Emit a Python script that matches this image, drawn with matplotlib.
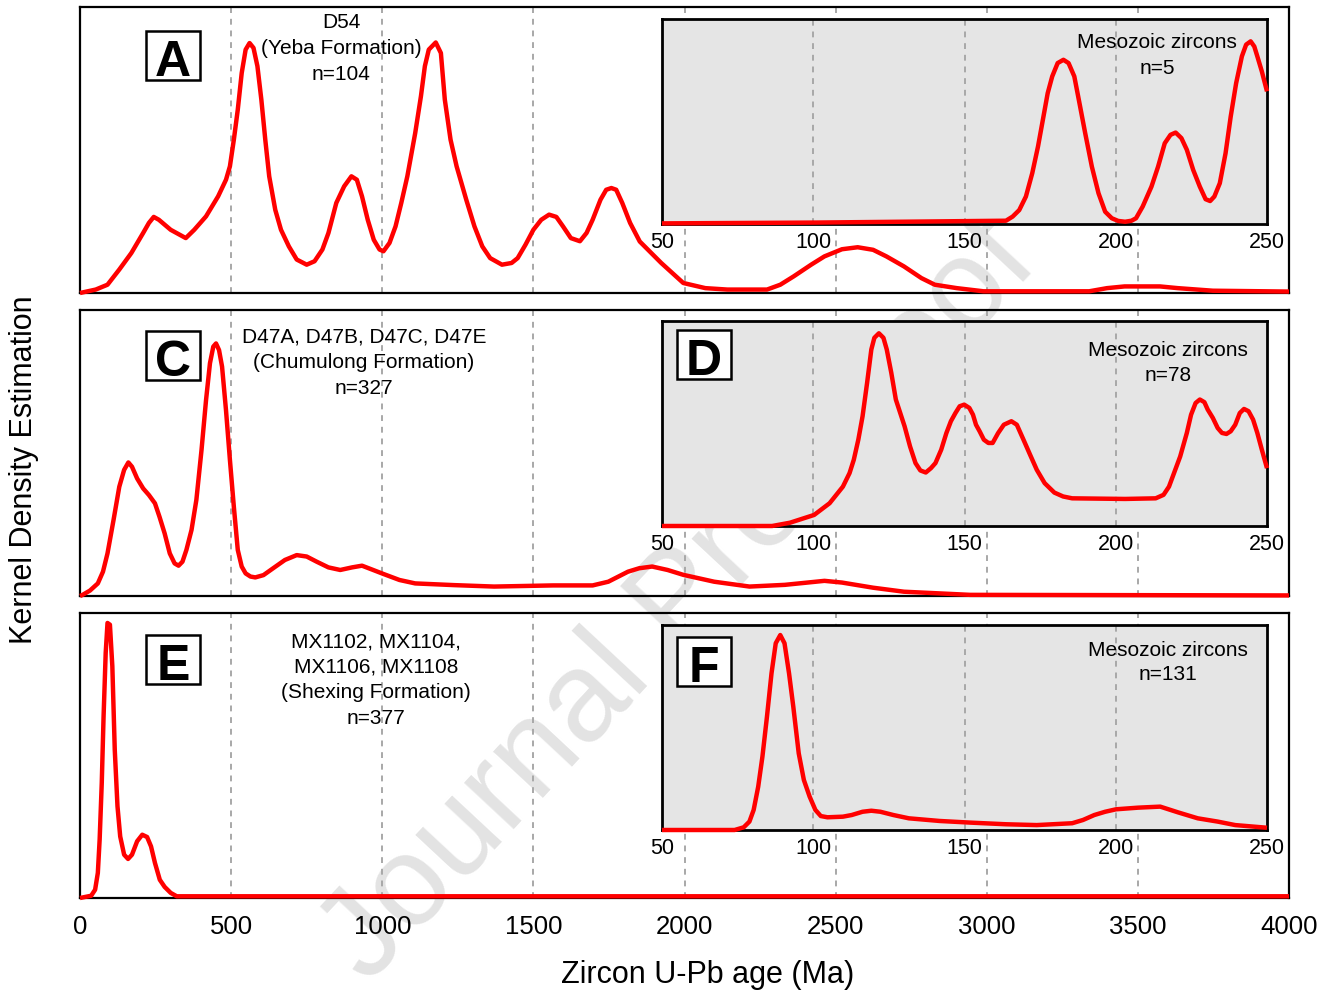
import matplotlib
matplotlib.use('Agg')
import matplotlib.pyplot as plt
from matplotlib.patches import Rectangle

plt.rcParams['font.family'] = ['Liberation Sans', 'DejaVu Sans']

# ---------------- data ----------------
ticks_main = [0, 500, 1000, 1500, 2000, 2500, 3000, 3500, 4000]
ticks_inset = [50, 100, 150, 200, 250]

# Panel A (D54, Yeba Formation)
A_age = [0, 52, 91, 130, 170, 209, 228, 244, 261, 300, 350, 378, 417, 457, 483, 496, 509,
         522, 535, 548, 561, 574, 587, 600, 613, 626, 646, 665, 691, 717, 750, 776, 802,
         822, 848, 874, 898, 916, 933, 952, 972, 991, 1004, 1024, 1044, 1063, 1083, 1109,
         1128, 1141, 1154, 1177, 1194, 1207, 1226, 1246, 1278, 1305, 1331, 1357, 1396,
         1428, 1448, 1474, 1500, 1526, 1552, 1576, 1598, 1624, 1654, 1676, 1696, 1722,
         1741, 1758, 1774, 1794, 1820, 1852, 1923, 1996, 2069, 2142, 2273, 2317, 2361,
         2419, 2463, 2521, 2573, 2624, 2668, 2726, 2784, 2828, 2901, 2989, 3339, 3398,
         3456, 3573, 3632, 3748, 4000]
A_kde = [0.0, 0.012, 0.029, 0.082, 0.140, 0.210, 0.245, 0.266, 0.256, 0.221, 0.192, 0.221,
         0.268, 0.338, 0.396, 0.443, 0.536, 0.641, 0.769, 0.851, 0.874, 0.857, 0.793,
         0.676, 0.536, 0.408, 0.291, 0.221, 0.163, 0.117, 0.099, 0.111, 0.152, 0.210,
         0.315, 0.373, 0.408, 0.396, 0.338, 0.256, 0.186, 0.152, 0.146, 0.175, 0.233,
         0.315, 0.408, 0.559, 0.688, 0.793, 0.851, 0.876, 0.839, 0.676, 0.536, 0.443,
         0.326, 0.233, 0.163, 0.122, 0.099, 0.105, 0.122, 0.169, 0.221, 0.256, 0.274,
         0.266, 0.233, 0.192, 0.181, 0.210, 0.256, 0.326, 0.361, 0.367, 0.361, 0.315,
         0.245, 0.18, 0.105, 0.035, 0.017, 0.012, 0.012, 0.029, 0.058, 0.099, 0.128,
         0.153, 0.160, 0.151, 0.128, 0.093, 0.052, 0.029, 0.017, 0.006, 0.006, 0.017,
         0.023, 0.023, 0.017, 0.008, 0.005]

# Inset B (Mesozoic zircons, n=5)
Ai_age = [50, 101, 163.7, 165.9, 168.1, 170.3, 172.4, 174.3, 176.1, 177.5, 179, 180.8,
          182.7, 184.4, 186.3, 188, 189.9, 192.1, 194.3, 196.5, 198.7, 200.8, 203.1, 205.2,
          206.7, 208.9, 211.8, 214, 216.2, 218.1, 219.8, 221.7, 223.5, 225.6, 227.8, 229.7,
          231.2, 232.6, 234.4, 236.3, 238, 239.8, 241.7, 243.1, 244.6, 245.8, 246.8, 248.3,
          250]
Ai_kde = [0.003, 0.007, 0.016, 0.036, 0.068, 0.134, 0.248, 0.378, 0.524, 0.638, 0.72,
          0.785, 0.801, 0.785, 0.72, 0.59, 0.443, 0.28, 0.15, 0.06, 0.028, 0.015, 0.011,
          0.016, 0.028, 0.085, 0.182, 0.28, 0.394, 0.435, 0.446, 0.419, 0.362, 0.264, 0.182,
          0.121, 0.112, 0.134, 0.199, 0.345, 0.524, 0.687, 0.818, 0.875, 0.891, 0.866,
          0.818, 0.744, 0.647]

# Panel C (Chumulong Formation)
C_age = [0, 7, 33, 59, 76, 91, 111, 130, 146, 160, 172, 189, 209, 228, 248, 263, 280, 297,
         313, 326, 339, 352, 369, 385, 402, 417, 430, 441, 450, 460, 470, 483, 496, 509,
         522, 535, 548, 564, 580, 607, 639, 678, 717, 750, 783, 822, 861, 900, 933, 965,
         1004, 1057, 1109, 1239, 1370, 1565, 1696, 1748, 1813, 1850, 1893, 1944, 1996,
         2098, 2215, 2332, 2463, 2521, 2624, 2726, 2945, 4000]
C_kde = [0.0, 0.003, 0.019, 0.044, 0.085, 0.149, 0.266, 0.382, 0.441, 0.467, 0.452, 0.411,
         0.376, 0.353, 0.324, 0.277, 0.219, 0.149, 0.114, 0.106, 0.120, 0.161, 0.231,
         0.336, 0.510, 0.685, 0.814, 0.872, 0.883, 0.860, 0.802, 0.650, 0.476, 0.312,
         0.161, 0.103, 0.079, 0.068, 0.065, 0.073, 0.097, 0.126, 0.143, 0.138, 0.120,
         0.100, 0.091, 0.100, 0.106, 0.093, 0.077, 0.056, 0.044, 0.038, 0.033, 0.037,
         0.037, 0.050, 0.085, 0.097, 0.103, 0.091, 0.074, 0.050, 0.033, 0.039, 0.053,
         0.047, 0.029, 0.015, 0.004, 0.002]

# Inset D (Mesozoic zircons, n=78)
D_age = [50, 86.4, 92.3, 100.3, 105.4, 109.8, 112, 113.4, 114.9, 116.3, 117.8, 119.2,
         120.2, 121.7, 123.2, 124.3, 125.8, 127.3, 130.2, 132, 133.8, 135.4, 137.2, 138.9,
         140.4, 142.3, 144, 145.5, 147, 148.4, 149.9, 151.6, 152.8, 153.8, 155, 156.4,
         157.9, 159.3, 161.1, 163, 165.5, 167.3, 169.5, 171.7, 173.9, 176.5, 179.7, 182.6,
         185.6, 203.1, 213.2, 215.8, 217.6, 221.3, 223.5, 224.9, 226.4, 227.8, 229.3,
         230.4, 232.1, 233.7, 235.1, 236.6, 238, 239.5, 241, 242.4, 243.9, 245.4, 246.8,
         248.3, 250]
D_kde = [0.0, 0.0, 0.016, 0.054, 0.111, 0.192, 0.258, 0.323, 0.421, 0.535, 0.698, 0.861,
         0.918, 0.940, 0.918, 0.861, 0.747, 0.617, 0.486, 0.388, 0.307, 0.271, 0.261,
         0.282, 0.307, 0.372, 0.453, 0.511, 0.551, 0.584, 0.592, 0.576, 0.543, 0.494,
         0.462, 0.421, 0.405, 0.405, 0.453, 0.494, 0.511, 0.494, 0.421, 0.347, 0.274,
         0.209, 0.163, 0.144, 0.135, 0.132, 0.135, 0.152, 0.192, 0.339, 0.454, 0.543,
         0.600, 0.617, 0.604, 0.568, 0.527, 0.478, 0.454, 0.449, 0.462, 0.494, 0.551,
         0.571, 0.560, 0.519, 0.454, 0.372, 0.282]

# Panel E (Shexing Formation)
E_age = [0, 37, 50, 59, 65, 72, 78, 85, 91, 99, 107, 115, 124, 133, 146, 159, 172, 189,
         206, 222, 235, 248, 264, 280, 300, 320, 4000]
E_kde = [0.0, 0.008, 0.029, 0.088, 0.205, 0.404, 0.637, 0.860, 0.965, 0.959, 0.813, 0.520,
         0.322, 0.216, 0.152, 0.137, 0.152, 0.199, 0.222, 0.214, 0.181, 0.123, 0.064,
         0.039, 0.018, 0.006, 0.006]

# Inset F (Mesozoic zircons, n=131)
F_age = [50, 74, 77, 78.9, 80.3, 81.8, 83.2, 84.7, 86.2, 87.6, 89.1, 90.5, 92, 93.4, 95.2,
         96.9, 98.8, 100.7, 102.5, 104.7, 109.8, 112.7, 116.3, 119.2, 122.2, 126.5, 131.6,
         141.8, 152, 163.7, 173.9, 185.6, 189.2, 192.9, 196.5, 200.1, 207.4, 214.7, 220.6,
         227.1, 233.7, 239.5, 250]
F_kde = [0.0, 0.0, 0.013, 0.041, 0.098, 0.211, 0.358, 0.553, 0.764, 0.911, 0.951, 0.911,
         0.764, 0.602, 0.374, 0.244, 0.163, 0.098, 0.068, 0.062, 0.065, 0.073, 0.089,
         0.094, 0.089, 0.073, 0.057, 0.044, 0.036, 0.028, 0.024, 0.033, 0.049, 0.073,
         0.089, 0.101, 0.109, 0.114, 0.086, 0.057, 0.041, 0.024, 0.011]

sample_text = [
    ['D54', '(Yeba Formation)', 'n=104'],
    ['D47A, D47B, D47C, D47E', '(Chumulong Formation)', 'n=327'],
    ['MX1102, MX1104,', 'MX1106, MX1108', '(Shexing Formation)', 'n=377'],
]
inset_text = [
    ['Mesozoic zircons', 'n=5'],
    ['Mesozoic zircons', 'n=78'],
    ['Mesozoic zircons', 'n=131'],
]
panel_letters = ['A', 'C', 'E', 'D', 'F']
xlabel = 'Zircon U-Pb age (Ma)'
ylabel = 'Kernel Density Estimation'
watermark = 'Journal Pre-proof'

# ---------------- layout ----------------
W, H = 1331, 996
fig = plt.figure(figsize=(W / 100, H / 100), dpi=100)
fig.patch.set_facecolor('white')


def rect(x0, y0, x1, y1):
    return [x0 / W, 1 - y1 / H, (x1 - x0) / W, (y1 - y0) / H]


def fpt(x, y):
    return x / W, 1 - y / H


main_boxes = [(80, 7, 1289, 293), (80, 310, 1289, 596), (80, 613, 1289, 898)]
inset_boxes = [(662, 19, 1267, 224), (662, 321, 1267, 526), (662, 625, 1267, 830)]
main_series = [(A_age, A_kde), (C_age, C_kde), (E_age, E_kde)]
inset_series = [(Ai_age, Ai_kde), (D_age, D_kde), (F_age, F_kde)]

RED = '#ff0000'
DASH = '#a8a8a8'

# watermark behind everything
fig.text(*fpt(680, 602), watermark, rotation=47, fontsize=92,
         color='#e3e3e3', ha='center', va='center', zorder=-5)

for i in range(3):
    ax = fig.add_axes(rect(*main_boxes[i]))
    ax.set_facecolor('none')
    ax.set_xlim(0, 4000)
    ax.set_ylim(0, 1)
    ax.set_yticks([])
    for s in ax.spines.values():
        s.set_linewidth(1.6)
        s.set_color('black')
    for t in ticks_main[1:-1]:
        ax.axvline(t, color=DASH, lw=1.4, ls=(0, (3, 3)), zorder=1)
    x, y = main_series[i]
    ax.plot(x, y, color=RED, lw=3.2, solid_joinstyle='round', solid_capstyle='butt',
            zorder=3, clip_on=False)
    ax.set_xticks(ticks_main)
    if i == 2:
        ax.tick_params(axis='x', length=0, pad=12, labelsize=18.5)
        ax.set_xticklabels([str(t) for t in ticks_main])
    else:
        ax.tick_params(axis='x', length=0, labelbottom=False)

for i in range(3):
    ax = fig.add_axes(rect(*inset_boxes[i]))
    ax.set_facecolor('#e5e5e5')
    ax.set_xlim(50, 250)
    ax.set_ylim(0, 1)
    ax.set_yticks([])
    for s in ax.spines.values():
        s.set_linewidth(2.0)
        s.set_color('black')
    for t in ticks_inset[1:-1]:
        ax.axvline(t, color=DASH, lw=1.4, ls=(0, (3, 3)), zorder=1)
    x, y = inset_series[i]
    ax.plot(x, y, color=RED, lw=3.2, solid_joinstyle='round', solid_capstyle='butt',
            zorder=3, clip_on=False)
    ax.set_xticks(ticks_inset)
    ax.set_xticklabels([str(t) for t in ticks_inset])
    ax.tick_params(axis='x', length=0, pad=6, labelsize=15.5)

# panel letters in boxes
letter_pos = [(146, 31), (146, 331), (146, 635), (677, 330), (677, 637)]
for letter, (bx, by) in zip(panel_letters, letter_pos):
    r = Rectangle(fpt(bx, by + 49), 54 / W, 49 / H, transform=fig.transFigure,
                  facecolor='white', edgecolor='black', lw=1.8, zorder=10)
    fig.add_artist(r)
    fig.text(*fpt(bx + 27, by + 45), letter, ha='center', va='baseline', fontsize=36,
             fontweight='bold', zorder=11)

# sample annotations
sample_pos = [(341, [22, 48, 74]), (364, [337, 362, 388]), (376, [642, 667, 693, 719])]
for lines, (cx, ys) in zip(sample_text, sample_pos):
    for line, yy in zip(lines, ys):
        fig.text(*fpt(cx, yy), line, ha='center', va='center', fontsize=15, zorder=12)

inset_pos = [(1157, [43, 69]), (1168, [350, 375]), (1168, [650, 675])]
for lines, (cx, ys) in zip(inset_text, inset_pos):
    for line, yy in zip(lines, ys):
        fig.text(*fpt(cx, yy), line, ha='center', va='center', fontsize=15, zorder=12)

fig.text(*fpt(708, 975), xlabel, ha='center', va='center', fontsize=22)
fig.text(*fpt(24, 470), ylabel, ha='center', va='center', fontsize=22, rotation=90)

fig.savefig('out.png', dpi=100)
